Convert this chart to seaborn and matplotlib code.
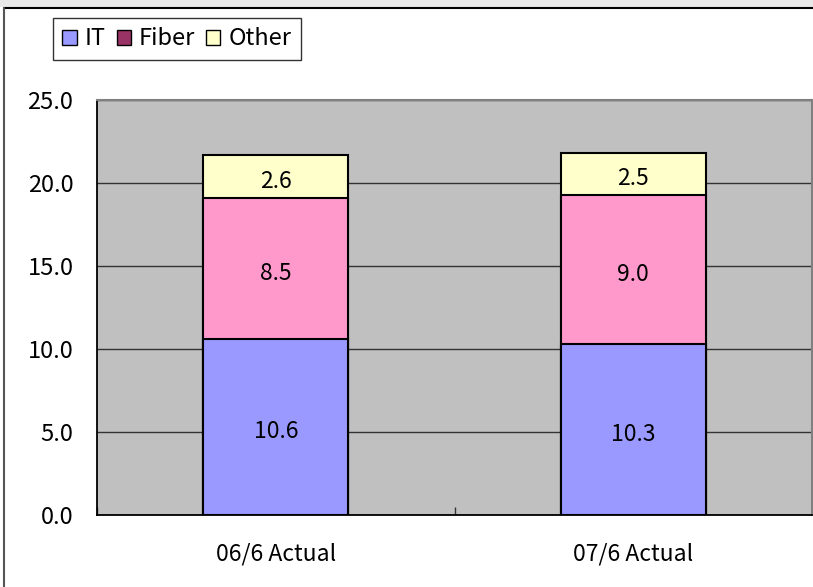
import pandas as pd
import seaborn as sns
import matplotlib.pyplot as plt
from matplotlib.patches import Rectangle, Patch

# dados do gráfico
periodos = ['06/6 Actual', '07/6 Actual']
it = [10.6, 10.3]
fiber = [8.5, 9.0]
other = [2.6, 2.5]

df = pd.DataFrame({'periodo': periodos, 'IT': it, 'Fiber': fiber, 'Other': other})
df['it_fiber'] = df['IT'] + df['Fiber']
df['total'] = df['it_fiber'] + df['Other']

sns.set_style('white')
plt.rcParams['font.family'] = ['Noto Sans CJK JP', 'DejaVu Sans']
plt.rcParams['text.color'] = 'black'
plt.rcParams['xtick.color'] = 'black'
plt.rcParams['ytick.color'] = 'black'

fig = plt.figure(figsize=(8.13, 5.87), dpi=100)
ax = fig.add_axes([97 / 813, 72 / 587, 715 / 813, 415 / 587])
ax.set_facecolor('#C0C0C0')

# barras empilhadas: do total para baixo
largura = 0.405
sns.barplot(x='periodo', y='total', data=df, color='#FFFFCC', width=largura, saturation=1,
            edgecolor='black', linewidth=1.5, ax=ax, zorder=3)
sns.barplot(x='periodo', y='it_fiber', data=df, color='#FF99CC', width=largura, saturation=1,
            edgecolor='black', linewidth=1.5, ax=ax, zorder=3)
sns.barplot(x='periodo', y='IT', data=df, color='#9999FF', width=largura, saturation=1,
            edgecolor='black', linewidth=1.5, ax=ax, zorder=3)

# rótulos dos valores (um pouco abaixo do centro, como no original)
tam = 16.5
desl = 0.3
for i, row in df.iterrows():
    ax.text(i, row['IT'] / 2 - desl, f"{row['IT']:.1f}", ha='center', va='center', fontsize=tam, zorder=4)
    ax.text(i, row['IT'] + row['Fiber'] / 2 - desl, f"{row['Fiber']:.1f}", ha='center', va='center', fontsize=tam, zorder=4)
    ax.text(i, row['it_fiber'] + row['Other'] / 2 - desl, f"{row['Other']:.1f}", ha='center', va='center', fontsize=tam, zorder=4)

ax.set_xlim(-0.5, 1.5)
ax.set_ylim(0, 25)
ax.set_yticks([0, 5, 10, 15, 20, 25])
ax.set_yticklabels([f'{v:.1f}' for v in [0, 5, 10, 15, 20, 25]])
ax.yaxis.grid(True, color='#333333', linewidth=1, zorder=1)
ax.set_axisbelow(True)
ax.set_xlabel('')
ax.set_ylabel('')

ax.tick_params(axis='y', which='major', left=False, length=0, labelsize=17, pad=17)
ax.tick_params(axis='x', which='major', length=0, labelsize=16.5, pad=20)
ax.set_xticks([-0.5, 0.5, 1.5], minor=True)
ax.tick_params(axis='x', which='minor', bottom=True, length=6, width=1, direction='in', color='#333333')

for lado in ['left', 'bottom']:
    ax.spines[lado].set_color('black')
    ax.spines[lado].set_linewidth(1.3)
for lado in ['top', 'right']:
    ax.spines[lado].set_color('#808080')
    ax.spines[lado].set_linewidth(1.5)

# legenda
handles = [Patch(facecolor='#9999FF', edgecolor='black', label='IT'),
           Patch(facecolor='#993366', edgecolor='black', label='Fiber'),
           Patch(facecolor='#FFFFCC', edgecolor='black', label='Other')]
leg = fig.legend(handles=handles, loc='upper left', bbox_to_anchor=(53 / 813, 1 - 18 / 587),
                 ncol=3, frameon=True, fancybox=False, fontsize=17,
                 handlelength=0.6, handleheight=0.6, handletextpad=0.35,
                 columnspacing=0.45, borderpad=0.4, borderaxespad=0)
leg.get_frame().set_edgecolor('black')
leg.get_frame().set_linewidth(1)

# moldura da figura
fig.add_artist(Rectangle((0, 1 - 7 / 587), 1, 7 / 587, transform=fig.transFigure,
                         facecolor='#E8E8E8', edgecolor='none'))
fig.add_artist(plt.Line2D([4 / 813, 1], [1 - 8 / 587, 1 - 8 / 587], transform=fig.transFigure,
                          color='black', linewidth=1.5))
fig.add_artist(plt.Line2D([4 / 813, 4 / 813], [0, 1 - 8 / 587], transform=fig.transFigure,
                          color='#555555', linewidth=1.5))

fig.savefig('out.png', dpi=100)
plt.close()
